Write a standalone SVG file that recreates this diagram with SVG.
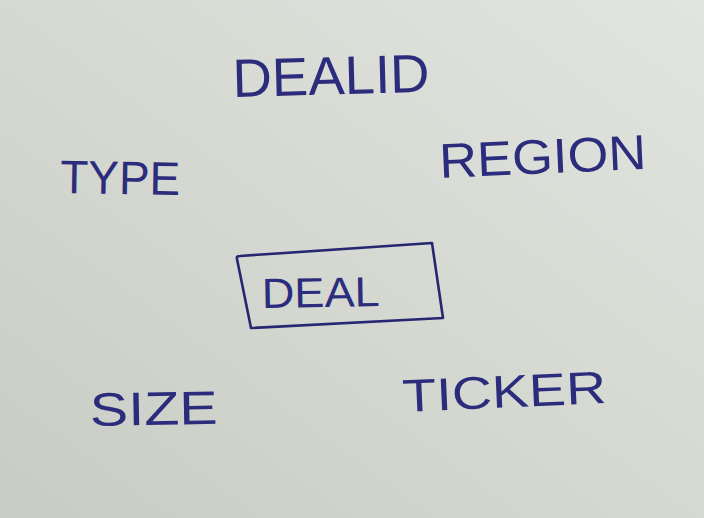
<svg xmlns="http://www.w3.org/2000/svg" width="704" height="518" viewBox="0 0 704 518">
  <defs>
    <linearGradient id="paper" x1="0" y1="1" x2="1" y2="0">
      <stop offset="0" stop-color="#c9ccc5"/>
      <stop offset="0.5" stop-color="#d6d8d2"/>
      <stop offset="1" stop-color="#e2e4df"/>
    </linearGradient>
  </defs>
  <style>
    .ink { font-family: "Liberation Sans", Arial, sans-serif; fill: #2b2c7c; }
    .box { fill: none; stroke: #262770; stroke-width: 2.6; stroke-linejoin: round; }
  </style>
  <rect x="0" y="0" width="704" height="518" fill="url(#paper)"/>
  <g id="connectors"></g>
  <g id="deal">
    <path class="box" d="M237,259 Q236,256 240,256 L432,243 L443,318 L251,328 Z"/>
    <text class="ink" x="262" y="308" font-size="42" textLength="118" lengthAdjust="spacingAndGlyphs" transform="rotate(-1 262 308)">DEAL</text>
  </g>
  <g id="dealid">
    <text class="ink" x="233" y="97" font-size="54" textLength="197" lengthAdjust="spacingAndGlyphs" transform="rotate(-1.5 233 97)">DEALID</text>
  </g>
  <g id="type">
    <text class="ink" x="60" y="193" font-size="47" textLength="120" lengthAdjust="spacingAndGlyphs" transform="rotate(1 60 193)">TYPE</text>
  </g>
  <g id="region">
    <text class="ink" x="440" y="178" font-size="49" textLength="207" lengthAdjust="spacingAndGlyphs" transform="rotate(-2.5 440 178)">REGION</text>
  </g>
  <g id="size">
    <text class="ink" x="90" y="426" font-size="47" textLength="128" lengthAdjust="spacingAndGlyphs" transform="rotate(-1 90 426)">SIZE</text>
  </g>
  <g id="ticker">
    <text class="ink" x="403" y="412" font-size="46" textLength="204" lengthAdjust="spacingAndGlyphs" transform="rotate(-2.5 403 412)">TICKER</text>
  </g>
</svg>
